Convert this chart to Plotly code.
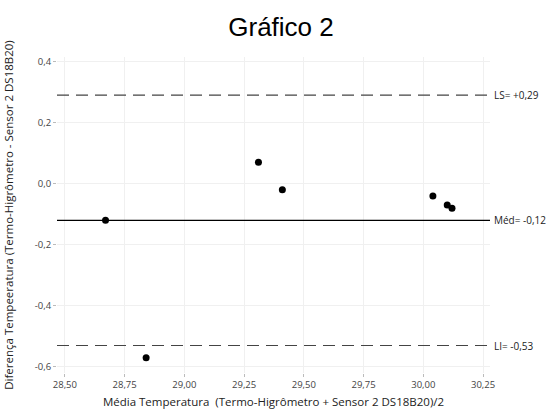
import plotly.graph_objects as go

media = [28.67, 28.84, 29.31, 29.41, 30.04, 30.10, 30.12]
diferenca = [-0.12, -0.57, 0.07, -0.02, -0.04, -0.07, -0.08]
ls_val = 0.29
med_val = -0.12
li_val = -0.53
x_ticks = [28.50, 28.75, 29.00, 29.25, 29.50, 29.75, 30.00, 30.25]
y_ticks = [-0.6, -0.4, -0.2, 0.0, 0.2, 0.4]

font_fam = "Open Sans, Noto Sans, sans-serif"

fig = go.Figure()
fig.add_trace(go.Scatter(x=media, y=diferenca, mode="markers",
                         marker=dict(color="black", size=7), showlegend=False))

for val, dash, col in [(ls_val, "dash", "#444444"), (med_val, "solid", "black"), (li_val, "dash", "#444444")]:
    fig.add_shape(type="line", xref="paper", x0=0, x1=1, yref="y", y0=val, y1=val,
                  line=dict(color=col, width=1.2, dash="12px,7px" if dash == "dash" else "solid"))

labels = [(ls_val, "LS= +0,29"), (med_val, "Méd= -0,12"), (li_val, "LI= -0,53")]
for val, txt in labels:
    fig.add_annotation(xref="paper", x=1, yref="y", y=val, text=txt, showarrow=False,
                       xanchor="left", xshift=2, font=dict(family=font_fam, size=10, color="#222222"))

fig.update_layout(
    width=551, height=409,
    margin=dict(l=57, r=61, t=57, b=36),
    plot_bgcolor="white", paper_bgcolor="white",
    title=dict(text="Gráfico 2", x=0.51, xanchor="center", y=0.934, yanchor="middle",
               font=dict(family="Liberation Sans, Arial, sans-serif", size=26, color="black")),
    xaxis=dict(range=[28.467, 30.279], tickvals=x_ticks, automargin=False,
               ticktext=[f"{v:.2f}".replace(".", ",") for v in x_ticks],
               showgrid=True, gridcolor="#f0f0f0", gridwidth=1, zeroline=False,
               ticks="outside", ticklen=3, tickcolor="#bbbbbb", showline=False,
               tickfont=dict(family=font_fam, size=9.5, color="#444444"),
               title=dict(text="Média Temperatura  (Termo-Higrômetro + Sensor 2 DS18B20)/2",
                          font=dict(family=font_fam, size=11.5, color="#222222"), standoff=9)),
    yaxis=dict(range=[-0.62, 0.415], tickvals=y_ticks, automargin=False,
               ticktext=[f"{v:.1f}".replace(".", ",") for v in y_ticks],
               showgrid=True, gridcolor="#f0f0f0", gridwidth=1, zeroline=False,
               ticks="outside", ticklen=3, tickcolor="#bbbbbb", showline=False,
               tickfont=dict(family=font_fam, size=9.5, color="#444444"),
               title=dict(text="Diferença Tempeeratura (Termo-Higrômetro - Sensor 2 DS18B20)",
                          font=dict(family=font_fam, size=11.5, color="#222222"), standoff=18)),
)

fig.write_html("out.html", config={"displayModeBar": False},
               post_script="document.body.style.margin='0';")
